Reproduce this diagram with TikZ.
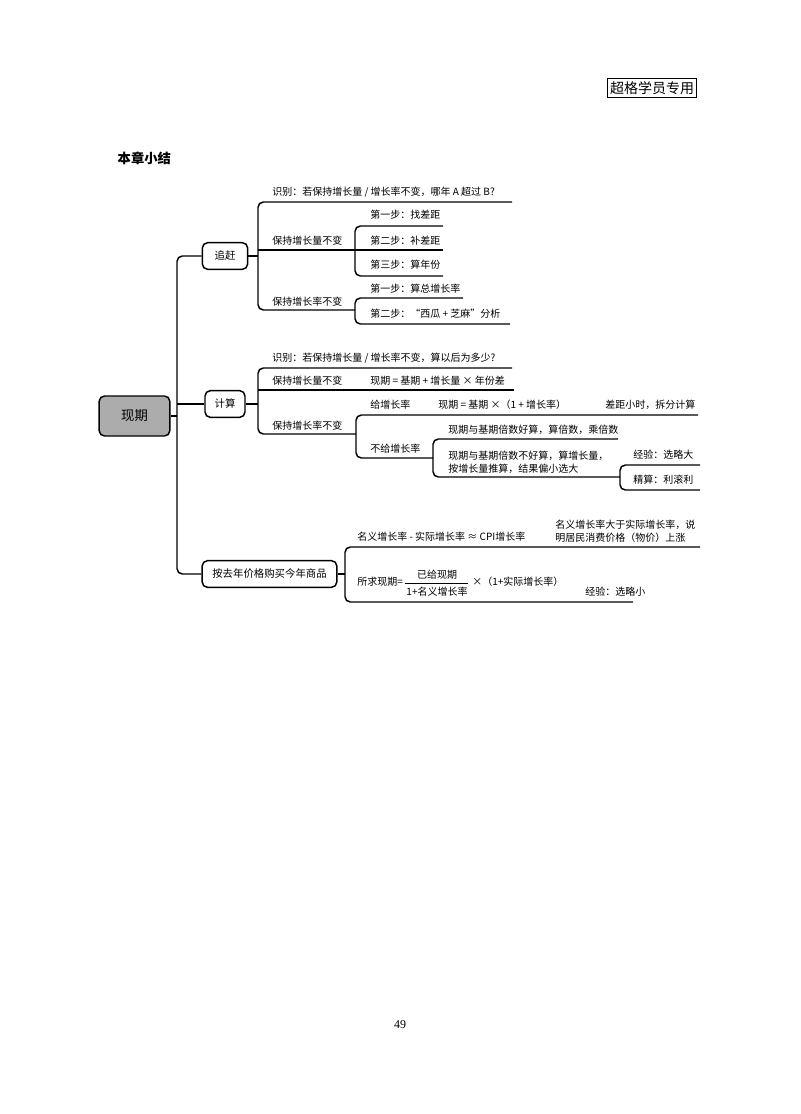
\documentclass[tikz,border=0pt]{standalone}
\usepackage{fontspec}
\setmainfont{Noto Sans CJK SC}
\newfontfamily\serifcjk{Liberation Serif}
\begin{document}
\begin{tikzpicture}[x=0.75pt,y=-0.75pt,
  ln/.style={line width=1.1pt,rounded corners=4pt},
  tx/.style={anchor=west,inner sep=0pt,font=\fontsize{7.5}{9.5}\selectfont},
  bx/.style={draw,line width=1.1pt,rounded corners=4pt,minimum height=20pt,font=\fontsize{7.8}{9}\selectfont,inner xsep=6pt}]
\useasboundingbox (0,0) rectangle (800,1114);
\node[draw,line width=0.8pt,inner sep=2pt,font=\fontsize{10.5}{12}\selectfont] (hdr) at (652,88) {超格学员专用};
\node[anchor=west,font=\fontsize{10}{12}\selectfont\bfseries] (title) at (113,158) {本章小结};
\node[bx,fill=gray!65,minimum width=53pt,minimum height=30pt,font=\fontsize{10}{12}\selectfont] (root) at (134.5,416) {现期};
\node[bx,minimum width=34pt] (zg) at (225,256) {追赶};
\node[bx,minimum width=30pt] (js) at (225,404) {计算};
\node[bx,minimum width=101pt] (gm) at (269.5,574) {按去年价格购买今年商品};
% trunk
\draw[ln] (root.east) -- (177,416);
\draw[ln] (zg.west) -| (177,416) |- (gm.west);
\draw[ln] (js.west) -- (177,404);
% 追赶
\draw[ln] (zg.east) -- (258,256);
\draw[ln] (512,202) -- (258,202) -- (258,310) -- (355,310);
\draw[ln] (258,250) -- (355,250);
\draw[ln] (443,226) -- (355,226) -- (355,276) -- (443,276);
\draw[ln] (355,250) -- (443,250);
\draw[ln] (463,298) -- (355,298) -- (355,324) -- (510,324);
\node[tx] (a1) at (272,192) {识别：若保持增长量 / 增长率不变，哪年 A 超过 B?};
\node[tx] (a2) at (272,241) {保持增长量不变};
\node[tx] (a3) at (272,302) {保持增长率不变};
\node[tx] (b1) at (370,215) {第一步：找差距};
\node[tx] (b2) at (370,241) {第二步：补差距};
\node[tx] (b3) at (370,265) {第三步：算年份};
\node[tx] (b4) at (370,289) {第一步：算总增长率};
\node[tx] (b5) at (370,314) {第二步：“西瓜 + 芝麻”分析};
% 计算
\draw[ln] (js.east) -- (258,404);
\draw[ln] (512,368) -- (258,368) -- (258,434) -- (356,434);
\draw[ln] (258,390) -- (514,390);
\draw[ln] (698,415) -- (356,415) -- (356,458) -- (433,458);
\draw[ln] (618,439) -- (433,439) -- (433,477) -- (620,477);
\draw[ln] (700,465) -- (620,465) -- (620,490) -- (700,490);
\node[tx] (c1) at (272,358) {识别：若保持增长量 / 增长率不变，算以后为多少?};
\node[tx] (c2) at (272,381) {保持增长量不变};
\node[tx] (c3) at (370,381) {现期 = 基期 + 增长量 × 年份差};
\node[tx] (c4) at (272,426) {保持增长率不变};
\node[tx] (c5) at (370,405) {给增长率};
\node[tx] (c6) at (438,405) {现期 = 基期 ×（1 + 增长率）};
\node[tx] (c7) at (605,405) {差距小时，拆分计算};
\node[tx] (c8) at (370,449) {不给增长率};
\node[tx] (c9) at (448,430) {现期与基期倍数好算，算倍数，乘倍数};
\node[tx,align=left] (c10) at (448,462) {现期与基期倍数不好算，算增长量，\\按增长量推算，结果偏小选大};
\node[tx] (c11) at (633,455) {经验：选略大};
\node[tx] (c12) at (633,480) {精算：利滚利};
% 第三
\draw[ln] (gm.east) -- (345,574);
\draw[ln] (700,547) -- (345,547) -- (345,602) -- (633,602);
\node[tx] (d1) at (357,537) {名义增长率 - 实际增长率 ≈ CPI增长率};
\node[tx,align=left] (d2) at (555,531) {名义增长率大于实际增长率，说\\明居民消费价格（物价）上涨};
\node[tx] (d3) at (357,582) {所求现期=};
\node[tx,anchor=center] (d4) at (437,575) {已给现期};
\node[tx,anchor=center] (d5) at (437,592) {1+名义增长率};
\draw[line width=0.6pt] (405,583.5) -- (468,583.5);
\node[tx] (d6) at (472,582) {×（1+实际增长率）};
\node[tx] (d7) at (585,592) {经验：选略小};
\node[font=\serifcjk\fontsize{9}{11}\selectfont] (pg) at (400,1025) {49};
\end{tikzpicture}
\end{document}
